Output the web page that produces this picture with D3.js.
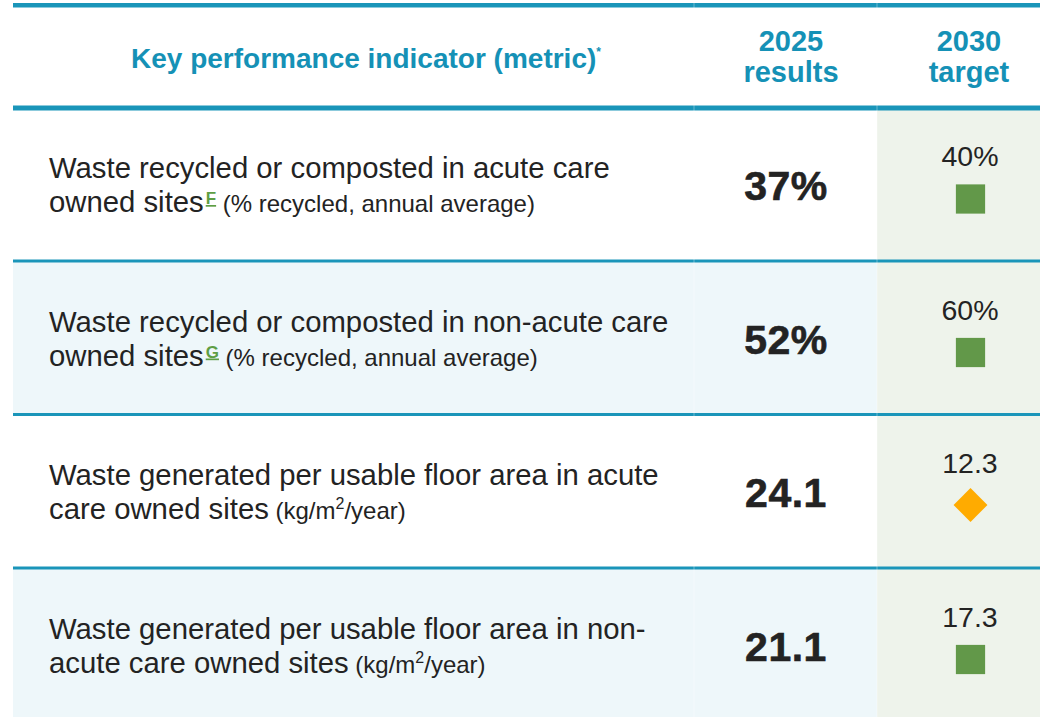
<!DOCTYPE html>
<html lang="en">
<head>
  <meta charset="UTF-8">
  <title>Waste KPIs</title>
  <script src="https://d3js.org/d3.v7.min.js"></script>
  <style>
    body { margin: 0; background: #fff; font-family: 'Liberation Sans', Arial, sans-serif; }
    svg text { font-family: 'Liberation Sans', Arial, sans-serif; }
  </style>
</head>
<body>
  <svg width="1040" height="717"></svg>
  <script>
    // data
    const headers = ["Key performance indicator (metric)", "2025|results", "2030|target"];
    const kpiLine1 = [
      "Waste recycled or composted in acute care",
      "Waste recycled or composted in non-acute care",
      "Waste generated per usable floor area in acute",
      "Waste generated per usable floor area in non-"
    ];
    const kpiLine2 = ["owned sites", "owned sites", "care owned sites", "acute care owned sites"];
    const footnotes = ["F", "G", "", ""];
    const units = ["(% recycled, annual average)", "(% recycled, annual average)", "kg/m2/year", "kg/m2/year"];
    const results = ["37%", "52%", "24.1", "21.1"];
    const targets = ["40%", "60%", "12.3", "17.3"];
    const status = ["square", "square", "diamond", "square"];

    const svg = d3.select("svg");
    const teal = "#1a95b9", headColor = "#1591b6", ink = "#232323";
    const colorStatus = { square: "#629849", diamond: "#ffab00" };

    // column edges
    const left = 13, c1 = 694, c2 = 877, right = 1040;

    const y = d3.scaleBand().domain(d3.range(kpiLine1.length)).range([107, 721]).padding(0);

    // row backgrounds
    svg.selectAll(".rowbg").data(d3.range(kpiLine1.length)).enter().append("rect")
      .attr("x", left).attr("width", c2 - left)
      .attr("y", d => y(d)).attr("height", y.bandwidth())
      .attr("fill", d => d % 2 ? "#eef7fa" : "#fff");
    svg.append("rect").attr("x", c2).attr("width", right - c2)
      .attr("y", y(0)).attr("height", 721 - y(0)).attr("fill", "#eef3eb");

    // borders
    svg.append("rect").attr("x", left).attr("width", right - left).attr("y", 3).attr("height", 4.5).attr("fill", teal);
    svg.append("rect").attr("x", left).attr("width", right - left).attr("y", 105.5).attr("height", 5).attr("fill", teal);
    svg.selectAll(".sep").data(d3.range(1, kpiLine1.length)).enter().append("rect")
      .attr("x", left).attr("width", right - left)
      .attr("y", d => y(d) - 1).attr("height", 3).attr("fill", teal);
    // faint cell gaps on the border lines
    [c1, c2].forEach(x => {
      svg.append("line").attr("x1", x).attr("x2", x).attr("y1", 0).attr("y2", 717)
        .attr("stroke", "#ffffff").attr("stroke-opacity", 0.35).attr("stroke-width", 1);
    });

    // header
    const h0 = svg.append("text").attr("x", 366).attr("y", 68).attr("text-anchor", "middle")
      .attr("fill", headColor).attr("font-weight", "bold").attr("font-size", 28);
    h0.append("tspan").text(headers[0]);
    h0.append("tspan").attr("dy", -12).attr("font-size", 12).text("*");

    const colCenters = [791, 969];
    headers.slice(1).forEach((h, i) => {
      h.split("|").forEach((line, j) => {
        svg.append("text").attr("x", colCenters[i]).attr("y", 51 + j * 31)
          .attr("text-anchor", "middle").attr("fill", headColor)
          .attr("font-weight", "bold").attr("font-size", 29).text(line);
      });
    });

    // rows
    const rows = svg.selectAll(".row").data(d3.range(kpiLine1.length)).enter().append("g")
      .attr("transform", d => `translate(0,${y(d)})`);

    rows.append("text").attr("x", 49).attr("y", 71).attr("fill", ink).attr("font-size", 29.3)
      .text(d => kpiLine1[d]);

    rows.each(function (d) {
      const t = d3.select(this).append("text").attr("x", 49).attr("y", 105).attr("fill", ink).attr("font-size", 29.3);
      t.append("tspan").text(kpiLine2[d]);
      if (footnotes[d]) {
        t.append("tspan").attr("dx", 2).attr("dy", -8).attr("font-size", 17).attr("font-weight", "bold")
          .attr("fill", "#5e9e45").attr("text-decoration", "underline").text(footnotes[d]);
        t.append("tspan").attr("dy", 8).attr("font-size", 24).text(" " + units[d]);
      } else {
        const parts = units[d].split("m2");
        t.append("tspan").attr("font-size", 24).text(" (" + parts[0] + "m");
        t.append("tspan").attr("dy", -10).attr("font-size", 16).text("2");
        t.append("tspan").attr("dy", 10).attr("font-size", 24).text(parts[1] + ")");
      }
    });

    rows.append("text").attr("x", 786).attr("y", 93).attr("text-anchor", "middle")
      .attr("fill", ink).attr("font-weight", "bold").attr("font-size", 41)
      .attr("stroke", ink).attr("stroke-width", 0.6)
      .attr("letter-spacing", 0.5).text(d => results[d]);

    rows.append("text").attr("x", 970).attr("y", 59).attr("text-anchor", "middle")
      .attr("fill", ink).attr("font-size", 28.5).text(d => targets[d]);

    rows.append("path")
      .attr("d", d => status[d] === "diamond"
        ? d3.symbol(d3.symbolSquare2, 27 * 27)() : d3.symbol(d3.symbolSquare2, 33 * 33)())
      .attr("fill", d => colorStatus[status[d]])
      .attr("transform", d => status[d] === "diamond"
        ? `translate(970.5,91) rotate(45)` : `translate(970.5,92)`);
  </script>
</body>
</html>
